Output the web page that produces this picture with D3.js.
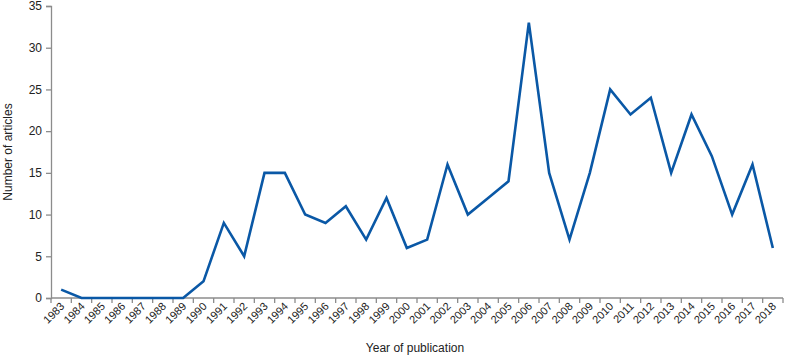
<!DOCTYPE html>
<html>
<head>
<meta charset="utf-8">
<script src="https://cdn.jsdelivr.net/npm/d3@7"></script>
<style>
  body { margin: 0; background: #fff; }
  svg { font-family: "Liberation Sans", Arial, sans-serif; }
</style>
</head>
<body>
<svg id="chart" width="787" height="355"></svg>
<script>
var years = ["1983","1984","1985","1986","1987","1988","1989","1990","1991","1992",
  "1993","1994","1995","1996","1997","1998","1999","2000","2001","2002","2003",
  "2004","2005","2006","2007","2008","2009","2010","2011","2012","2013","2014",
  "2015","2016","2017","2018"];
var articles = [1,0,0,0,0,0,0,2,9,5,15,15,10,9,11,7,12,6,7,16,10,12,14,33,15,7,15,25,22,24,15,22,17,10,16,6];
var yTicks = [0,5,10,15,20,25,30,35];

var margin = { top: 6, right: 4, bottom: 57, left: 51 };
var svg = d3.select("#chart");
var width = 787 - margin.left - margin.right;
var height = 355 - margin.top - margin.bottom;

var g = svg.append("g")
  .attr("transform", "translate(" + margin.left + "," + margin.top + ")");

var x = d3.scaleBand().domain(years).range([0, width]);
var y = d3.scaleLinear().domain([0, 35]).range([height, 0]);

// y axis
var yAxis = g.append("g")
  .call(d3.axisLeft(y).tickValues(yTicks).tickSize(5).tickPadding(4));
yAxis.select(".domain").attr("stroke", "#8c8c8c").attr("stroke-width", 1.3);
yAxis.selectAll(".tick line").attr("stroke", "#8c8c8c").attr("stroke-width", 1.3);
yAxis.selectAll("text").attr("font-size", 12).attr("fill", "#222");

// x axis, ticks between categories
var xg = g.append("g").attr("transform", "translate(0," + height + ")");
xg.append("line")
  .attr("x1", 0).attr("x2", width)
  .attr("stroke", "#8c8c8c").attr("stroke-width", 1.3);
xg.selectAll(".xt")
  .data(years.concat(["end"]))
  .enter().append("line")
  .attr("class", "xt")
  .attr("x1", function (d, i) { return i * x.step(); })
  .attr("x2", function (d, i) { return i * x.step(); })
  .attr("y1", 0).attr("y2", 5)
  .attr("stroke", "#8c8c8c").attr("stroke-width", 1.3);
xg.selectAll(".xl")
  .data(years)
  .enter().append("text")
  .attr("class", "xl")
  .attr("transform", function (d) {
    return "translate(" + (x(d) + x.bandwidth() / 2 + 4) + ",9) rotate(-45)";
  })
  .attr("text-anchor", "end")
  .attr("font-size", 11)
  .attr("fill", "#222")
  .text(function (d) { return d; });

// line
var line = d3.line()
  .x(function (d, i) { return x(years[i]) + x.bandwidth() / 2; })
  .y(function (d) { return y(d); });

g.append("path")
  .datum(articles)
  .attr("d", line)
  .attr("fill", "none")
  .attr("stroke", "#0a58a6")
  .attr("stroke-width", 2.6)
  .attr("stroke-linejoin", "miter");

// axis titles
svg.append("text")
  .attr("transform", "translate(12," + (margin.top + height / 2) + ") rotate(-90)")
  .attr("text-anchor", "middle")
  .attr("font-size", 12)
  .attr("fill", "#222")
  .text("Number of articles");

svg.append("text")
  .attr("x", 415)
  .attr("y", 352)
  .attr("text-anchor", "middle")
  .attr("font-size", 12)
  .attr("fill", "#222")
  .text("Year of publication");
</script>
</body>
</html>
